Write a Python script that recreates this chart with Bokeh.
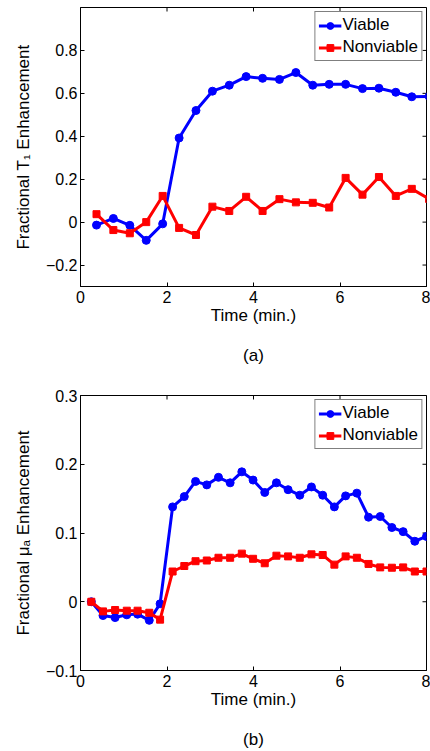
import math
from bokeh.plotting import figure
from bokeh.layouts import column
from bokeh.models import Range1d, FixedTicker, LinearAxis
from bokeh.embed import file_html
from bokeh.resources import INLINE

FONT = "Liberation Sans"

# ---------------- data: panel (a) ----------------
time_a = [0.37, 0.76, 1.14, 1.52, 1.90, 2.28, 2.67, 3.05, 3.44, 3.83, 4.21,
          4.60, 4.98, 5.37, 5.75, 6.13, 6.52, 6.90, 7.29, 7.66, 8.06]
viable_a = [-0.014, 0.017, -0.015, -0.085, -0.008, 0.392, 0.520, 0.610, 0.638,
            0.678, 0.670, 0.665, 0.697, 0.638, 0.642, 0.642, 0.622, 0.624,
            0.605, 0.584, 0.586]
nonviable_a = [0.037, -0.037, -0.052, 0.000, 0.122, -0.027, -0.060, 0.072,
               0.052, 0.118, 0.052, 0.107, 0.092, 0.090, 0.068, 0.206, 0.128,
               0.210, 0.122, 0.155, 0.108]

# ---------------- data: panel (b) ----------------
time_b = [0.25, 0.52, 0.80, 1.07, 1.32, 1.59, 1.84, 2.13, 2.40, 2.66, 2.92,
          3.19, 3.46, 3.73, 3.99, 4.26, 4.53, 4.80, 5.07, 5.34, 5.60, 5.87,
          6.13, 6.39, 6.66, 6.93, 7.20, 7.46, 7.73, 8.00]
viable_b = [0.000, -0.020, -0.023, -0.019, -0.018, -0.027, -0.003, 0.138,
            0.153, 0.175, 0.170, 0.181, 0.173, 0.189, 0.177, 0.159, 0.173,
            0.163, 0.155, 0.167, 0.155, 0.138, 0.154, 0.158, 0.123, 0.124,
            0.108, 0.102, 0.088, 0.095]
nonviable_b = [0.000, -0.014, -0.012, -0.013, -0.013, -0.016, -0.026, 0.044,
               0.052, 0.059, 0.060, 0.064, 0.064, 0.070, 0.0625, 0.056, 0.067,
               0.066, 0.064, 0.069, 0.068, 0.054, 0.066, 0.064, 0.055, 0.050,
               0.0495, 0.050, 0.044, 0.044]

series_names = ["Viable", "Nonviable"]
x_range = (0, 8)
x_ticks = [0, 2, 4, 6, 8]
x_tick_labels = ["0", "2", "4", "6", "8"]
y_range_a = (-0.3, 1.0)
y_ticks_a = [-0.2, 0, 0.2, 0.4, 0.6, 0.8]
y_tick_labels_a = ["\u22120.2", "0", "0.2", "0.4", "0.6", "0.8"]
y_range_b = (-0.1, 0.3)
y_ticks_b = [-0.1, 0, 0.1, 0.2, 0.3]
y_tick_labels_b = ["\u22120.1", "0", "0.1", "0.2", "0.3"]

x_label = "Time (min.)"
y_label_a = "Fractional T\u2081 Enhancement"
y_label_b = "Fractional \u03bc\u2090 Enhancement"
caption_a = "(a)"
caption_b = "(b)"


def style_axis(ax, ticks, labels):
    ax.ticker = FixedTicker(ticks=ticks)
    ax.major_label_overrides = {t: l for t, l in zip(ticks, labels)}
    ax.axis_line_color = "black"
    ax.axis_line_width = 1
    ax.major_tick_line_color = "black"
    ax.major_tick_in = 4
    ax.major_tick_out = 0
    ax.minor_tick_line_color = None
    ax.major_label_text_font = FONT
    ax.major_label_text_color = "black"
    ax.major_label_text_font_size = "16px"
    ax.axis_label_text_font = FONT
    ax.axis_label_text_font_size = "17px"
    ax.axis_label_text_font_style = "normal"
    ax.axis_label_text_color = "black"


def make_panel(t, v, n, yr, yticks, ylabels, ylabel, caption, height,
               top, bottom):
    p = figure(width=430, height=height, output_backend="svg",
               toolbar_location=None, title_location=None,
               x_range=Range1d(*x_range), y_range=Range1d(*yr),
               min_border_left=80, min_border_right=4,
               min_border_top=top, min_border_bottom=bottom)
    p.background_fill_color = "white"
    p.border_fill_color = "white"
    p.outline_line_color = "black"
    p.xgrid.visible = False
    p.ygrid.visible = False

    xa = p.xaxis[0]
    ya = p.yaxis[0]
    style_axis(xa, x_ticks, x_tick_labels)
    style_axis(ya, yticks, ylabels)
    xa.major_label_standoff = 4
    ya.major_label_standoff = 3
    xa.axis_label = x_label
    ya.axis_label = ylabel
    xa.axis_label_standoff = 0
    ya.axis_label_standoff = 10

    # caption "(a)"/"(b)" as the label of a tick-less axis stacked below
    cap_ax = LinearAxis(ticker=FixedTicker(ticks=[]), axis_label=caption,
                        axis_line_color=None, major_tick_line_color=None,
                        minor_tick_line_color=None, major_tick_in=0,
                        major_tick_out=0, minor_tick_out=0,
                        major_label_standoff=0, axis_label_standoff=18,
                        axis_label_text_font=FONT,
                        axis_label_text_font_size="17px",
                        axis_label_text_font_style="normal",
                        axis_label_text_color="black")
    p.add_layout(cap_ax, "below")

    # mirrored inward tick marks on the top and right edges (half clipped by frame)
    p.scatter(x_ticks, [yr[1]] * len(x_ticks), marker="dash", size=8,
              angle=math.pi / 2, line_color="black", line_width=1)
    p.scatter([x_range[1]] * len(yticks), yticks, marker="dash", size=8,
              line_color="black", line_width=1)

    p.line(t, v, line_color="blue", line_width=3, legend_label=series_names[0])
    p.scatter(t, v, marker="circle", size=8, fill_color="blue",
              line_color="blue", legend_label=series_names[0])
    p.line(t, n, line_color="red", line_width=3, legend_label=series_names[1])
    p.scatter(t, n, marker="square", size=7, fill_color="red",
              line_color="red", legend_label=series_names[1])

    lg = p.legend[0]
    lg.location = "top_right"
    lg.margin = 4
    lg.padding = 3
    lg.spacing = 2
    lg.label_height = 17
    lg.glyph_height = 17
    lg.glyph_width = 23
    lg.label_standoff = 1
    lg.label_text_font = FONT
    lg.label_text_font_size = "17px"
    lg.label_text_color = "black"
    lg.border_line_color = "black"
    lg.border_line_width = 1
    lg.background_fill_color = "white"
    lg.background_fill_alpha = 1
    return p


p1 = make_panel(time_a, viable_a, nonviable_a, y_range_a, y_ticks_a,
                y_tick_labels_a, y_label_a, caption_a, 380, 7, 94)
p2 = make_panel(time_b, viable_b, nonviable_b, y_range_b, y_ticks_b,
                y_tick_labels_b, y_label_b, caption_b, 371, 15, 77)

p = column(p1, p2)
open("out.html", "w").write(file_html(p, INLINE))
